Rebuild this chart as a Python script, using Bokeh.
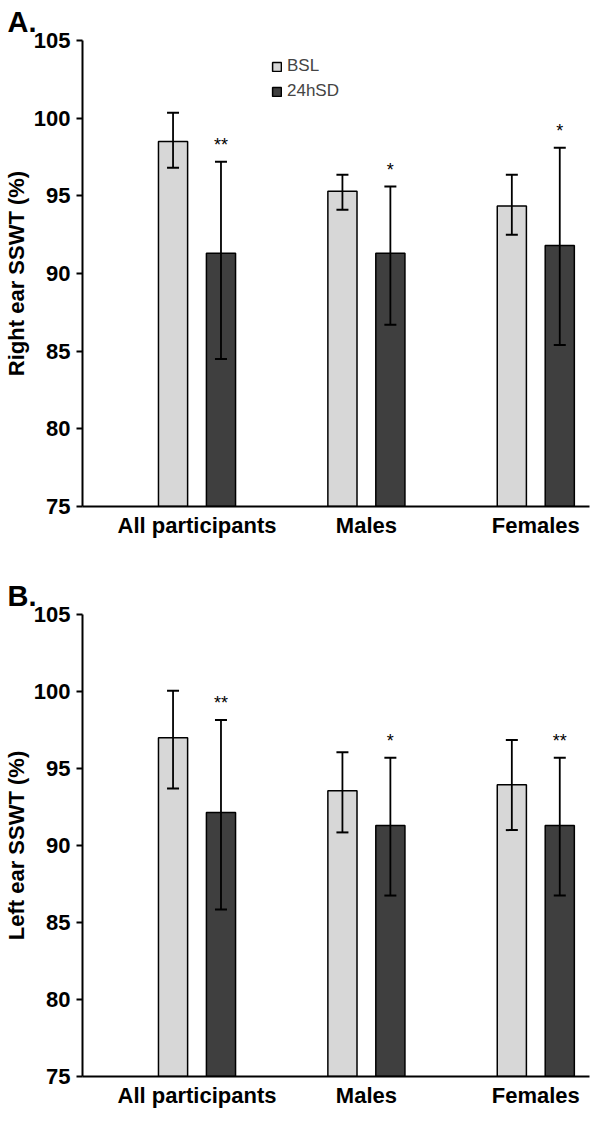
from bokeh.plotting import figure
from bokeh.layouts import column
from bokeh.models import (ColumnDataSource, Whisker, TeeHead, FixedTicker,
                          Legend, LegendItem)
from bokeh.transform import dodge
from bokeh.core.properties import value
from bokeh.embed import file_html
from bokeh.resources import INLINE

# Data (mean, lower and upper end of the error bar)
groups = ["All participants", "Males", "Females"]
series = ["BSL", "24hSD"]

right_bsl = [98.5, 95.3, 94.35]
right_bsl_lo = [96.8, 94.1, 92.5]
right_bsl_hi = [100.35, 96.35, 96.35]
right_sd = [91.3, 91.3, 91.8]
right_sd_lo = [84.5, 86.7, 85.4]
right_sd_hi = [97.2, 95.6, 98.1]
right_sig = ["**", "*", "*"]

left_bsl = [97.0, 93.55, 93.95]
left_bsl_lo = [93.7, 90.85, 91.0]
left_bsl_hi = [100.05, 96.05, 96.85]
left_sd = [92.15, 91.3, 91.3]
left_sd_lo = [85.85, 86.75, 86.75]
left_sd_hi = [98.15, 95.7, 95.7]
left_sig = ["**", "*", "**"]

FONT = "Liberation Sans"
BSL_COLOR = "#d7d7d7"
SD_COLOR = "#3f3f3f"
OFFSET = 0.1415
BAR_W = 0.172


def make_panel(tag, ylabel, bsl, bsl_lo, bsl_hi, sd, sd_lo, sd_hi, sig,
               height, top, bottom, legend=False):
    idx = list(range(len(groups)))
    src = ColumnDataSource(dict(x=idx, bsl=bsl, bsl_lo=bsl_lo, bsl_hi=bsl_hi,
                                sd=sd, sd_lo=sd_lo, sd_hi=sd_hi, sig=sig))
    p = figure(width=592, height=height, x_range=(-0.676, 2.317),
               y_range=(75, 105), output_backend="svg", toolbar_location=None,
               min_border_left=75, min_border_right=3,
               min_border_top=top, min_border_bottom=bottom, title=tag)

    # panel letter
    p.title.align = "left"
    p.title.offset = -75
    p.title.standoff = 5
    p.title.text_font = FONT
    p.title.text_font_size = "29px"
    p.title.text_font_style = "bold"
    p.title.text_color = "black"

    r1 = p.vbar(x=dodge("x", -OFFSET), top="bsl", bottom=75, width=BAR_W,
                fill_color=BSL_COLOR, line_color="black", line_width=1.5,
                source=src)
    r2 = p.vbar(x=dodge("x", OFFSET), top="sd", bottom=75, width=BAR_W,
                fill_color=SD_COLOR, line_color="black", line_width=1.5,
                source=src)

    for col, off in [("bsl", -OFFSET), ("sd", OFFSET)]:
        w = Whisker(source=src, base=dodge("x", off), upper=col + "_hi",
                    lower=col + "_lo", line_width=1.8, level="overlay",
                    upper_head=TeeHead(size=12, line_width=2),
                    lower_head=TeeHead(size=12, line_width=2))
        p.add_layout(w)

    # significance stars above the 24hSD error bars
    p.text(x=dodge("x", OFFSET), y="sd_hi", text="sig", source=src,
           y_offset=-17, text_align="center", text_baseline="alphabetic",
           text_font=value(FONT), text_font_size="18px", text_color="black")

    p.xaxis.ticker = FixedTicker(ticks=idx)
    p.xaxis.major_label_overrides = {i: g for i, g in enumerate(groups)}
    p.xaxis.major_tick_line_color = None
    p.xaxis.major_tick_out = 0
    p.xaxis.major_tick_in = 0
    p.xaxis.minor_tick_line_color = None
    p.xaxis.major_label_standoff = 6

    p.yaxis.ticker = FixedTicker(ticks=[75, 80, 85, 90, 95, 100, 105])
    p.yaxis.minor_tick_line_color = None
    p.yaxis.major_tick_out = 6
    p.yaxis.major_tick_in = 0
    p.yaxis.major_tick_line_width = 2
    p.yaxis.major_label_standoff = 6
    p.yaxis.axis_label = ylabel
    p.yaxis.axis_label_standoff = 2
    p.yaxis.axis_label_text_font = FONT
    p.yaxis.axis_label_text_font_size = "22px"
    p.yaxis.axis_label_text_font_style = "bold"
    p.yaxis.axis_label_text_color = "black"

    for ax in (p.xaxis, p.yaxis):
        ax.axis_line_width = 2
        ax.axis_line_color = "black"
        ax.major_label_text_font = FONT
        ax.major_label_text_font_size = "22px"
        ax.major_label_text_font_style = "bold"
        ax.major_label_text_color = "black"

    p.xgrid.visible = False
    p.ygrid.visible = False
    p.outline_line_color = None

    if legend:
        leg = Legend(items=[LegendItem(label=series[0], renderers=[r1]),
                            LegendItem(label=series[1], renderers=[r2])],
                     location=(189, 405), glyph_width=11, glyph_height=11,
                     label_text_font=FONT, label_text_font_size="17px",
                     label_standoff=5, spacing=5, padding=0, margin=0,
                     border_line_color=None, background_fill_alpha=0)
        p.add_layout(leg)
    return p


pa = make_panel("A.", "Right ear SSWT (%)", right_bsl, right_bsl_lo,
                right_bsl_hi, right_sd, right_sd_lo, right_sd_hi, right_sig,
                height=556, top=40, bottom=50, legend=True)
pb = make_panel("B.", "Left ear SSWT (%)", left_bsl, left_bsl_lo,
                left_bsl_hi, left_sd, left_sd_lo, left_sd_hi, left_sig,
                height=554, top=58, bottom=32)

layout = column(pa, pb, spacing=0)
open("out.html", "w").write(file_html(layout, INLINE))
